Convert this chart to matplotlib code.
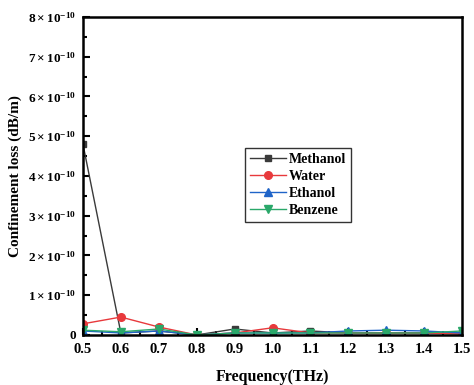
import numpy as np
import matplotlib
matplotlib.use("Agg")
import matplotlib.pyplot as plt
from matplotlib.ticker import FuncFormatter, MultipleLocator

plt.rcParams['font.family'] = ['Liberation Serif', 'DejaVu Serif']
plt.rcParams['mathtext.fontset'] = 'custom'
plt.rcParams['mathtext.rm'] = 'Liberation Serif:bold'
plt.rcParams['mathtext.it'] = 'Liberation Serif:bold'
plt.rcParams['mathtext.bf'] = 'Liberation Serif:bold'

# frequency (THz) and confinement loss (units of 1e-10 dB/m)
freq = [0.5, 0.6, 0.7, 0.8, 0.9, 1.0, 1.1, 1.2, 1.3, 1.4, 1.5]
methanol = [4.8, 0.05, 0.1, 0.0, 0.15, 0.05, 0.1, 0.05, 0.05, 0.05, 0.05]
water = [0.28, 0.45, 0.2, 0.0, 0.05, 0.18, 0.05, 0.05, 0.05, 0.05, 0.02]
ethanol = [0.1, 0.05, 0.1, 0.0, 0.05, 0.05, 0.05, 0.1, 0.12, 0.1, 0.05]
benzene = [0.12, 0.08, 0.15, 0.0, 0.05, 0.05, 0.05, 0.05, 0.05, 0.05, 0.1]

fig = plt.figure(figsize=(4.74, 3.85), dpi=100)
ax = fig.add_axes([0.175, 0.13, 0.80, 0.826])

scale = 1e-10
ax.plot(freq, np.array(methanol) * scale, color='#3a3a3a', marker='s', ms=4.5, lw=1.0, label='Methanol')
ax.plot(freq, np.array(water) * scale, color='#e8393c', marker='o', ms=5.5, lw=1.0, label='Water')
ax.plot(freq, np.array(ethanol) * scale, color='#1f64c8', marker='^', ms=5.5, lw=1.0, label='Ethanol')
ax.plot(freq, np.array(benzene) * scale, color='#2aa86a', marker='v', ms=5.5, lw=1.0, label='Benzene')

ax.set_xlim(0.5, 1.5)
ax.set_ylim(0, 8e-10)
ax.xaxis.set_major_locator(MultipleLocator(0.1))
ax.xaxis.set_minor_locator(MultipleLocator(0.05))
ax.yaxis.set_major_locator(MultipleLocator(1e-10))
ax.yaxis.set_minor_locator(MultipleLocator(0.5e-10))

def yfmt(v, pos):
    n = int(round(v / scale))
    if n == 0:
        return '0'
    return r'$%d\times10^{-10}$' % n

ax.yaxis.set_major_formatter(FuncFormatter(yfmt))
ax.xaxis.set_major_formatter(FuncFormatter(lambda v, p: '%.1f' % v))

ax.tick_params(which='both', direction='in', top=False, right=False, width=1.5)
ax.tick_params(which='major', length=5)
ax.tick_params(which='minor', length=3)
ax.tick_params(axis='x', pad=6, labelsize=10.5)
ax.tick_params(axis='y', pad=5, labelsize=9.5)
for lab in ax.get_xticklabels() + ax.get_yticklabels():
    lab.set_fontweight('bold')
for s in ax.spines.values():
    s.set_linewidth(1.8)

ax.set_xlabel('Frequency(THz)', fontsize=11.5, fontweight='bold', labelpad=9)
ax.set_ylabel('Confinement loss (dB/m)', fontsize=11, fontweight='bold', labelpad=4)

leg = ax.legend(loc='upper left', bbox_to_anchor=(0.41, 0.61), fancybox=False,
                edgecolor='black', handlelength=2.6, borderpad=0.35, labelspacing=0.3,
                handletextpad=0.2, prop={'weight': 'bold', 'size': 10})
leg.get_frame().set_linewidth(1.0)

fig.savefig('out.png', dpi=100)
